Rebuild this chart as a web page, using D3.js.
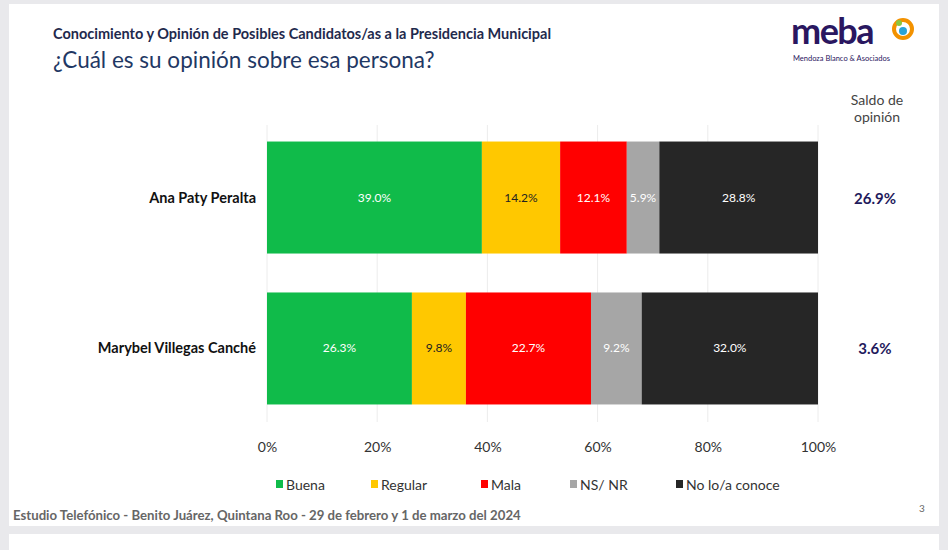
<!DOCTYPE html>
<html><head><meta charset="utf-8">
<script src="https://cdn.jsdelivr.net/npm/d3@7"></script>
<style>body{margin:0;background:#e9e9ec;font-family:Lato,"Open Sans",sans-serif}</style>
</head><body><svg id="c" width="948" height="550"></svg>
<script>
const candidates=["Ana Paty Peralta","Marybel Villegas Canché"];
const seriesNames=["Buena","Regular","Mala","NS/ NR","No lo/a conoce"];
const colors=["#10bb4a","#ffc800","#ff0000","#a6a6a6","#262626"];
const labelColors=["#ffffff","#222222","#ffffff","#ffffff","#ffffff"];
const values=[[39.0,14.2,12.1,5.9,28.8],[26.3,9.8,22.7,9.2,32.0]];
const saldo=["26.9%","3.6%"];
const ticks=[0,20,40,60,80,100];

const svg=d3.select("#c");
svg.append("rect").attr("x",9).attr("y",4).attr("width",930).attr("height",522).attr("fill","#fff");
svg.append("rect").attr("x",9).attr("y",534).attr("width",930).attr("height",20).attr("fill","#fff");
svg.append("text").attr("x",53).attr("y",39).attr("font-size",14.5).attr("font-weight","bold").attr("fill","#1f2a4d").text("Conocimiento y Opinión de Posibles Candidatos/as a la Presidencia Municipal");
svg.append("text").attr("x",53).attr("y",68).attr("font-size",22.5).attr("fill","#1f3864").text("¿Cuál es su opinión sobre esa persona?");
// logo
svg.append("text").attr("x",791).attr("y",44).attr("font-size",36).attr("font-weight","bold").attr("fill","#2a1760").attr("letter-spacing",-1.5).text("meba");
svg.append("circle").attr("cx",903).attr("cy",29).attr("r",9).attr("fill","none").attr("stroke","#f39200").attr("stroke-width",4);
svg.append("circle").attr("cx",903).attr("cy",31).attr("r",4).attr("fill","#29a3d8");
svg.append("circle").attr("cx",899).attr("cy",23).attr("r",3).attr("fill","#8cc63f");
svg.append("text").attr("x",793).attr("y",61).attr("font-size",7.5).attr("fill","#2a1760").text("Mendoza Blanco & Asociados");

const x=d3.scaleLinear().domain([0,100]).range([267,818]);
const y=d3.scaleBand().domain(candidates).range([129,417]).paddingInner(0.258).paddingOuter(0.083);
svg.append("g").selectAll("line").data(ticks).join("line").attr("x1",d=>x(d)).attr("x2",d=>x(d)).attr("y1",125).attr("y2",422).attr("stroke","#ececec");
candidates.forEach((c,i)=>{
  let acc=0;
  const g=svg.append("g");
  values[i].forEach((v,j)=>{
    g.append("rect").attr("x",x(acc)).attr("y",y(c)).attr("width",x(acc+v)-x(acc)).attr("height",y.bandwidth()).attr("fill",colors[j]);
    g.append("text").attr("x",x(acc+v/2)).attr("y",y(c)+y.bandwidth()/2+4).attr("text-anchor","middle").attr("font-size",12).attr("fill",labelColors[j]).text(v.toFixed(1)+"%");
    acc+=v;
  });
  svg.append("text").attr("x",256).attr("y",y(c)+y.bandwidth()/2+5).attr("text-anchor","end").attr("font-size",14.5).attr("font-weight","bold").attr("fill","#111").text(c);
  svg.append("text").attr("x",875).attr("y",y(c)+y.bandwidth()/2+6).attr("text-anchor","middle").attr("font-size",15).attr("font-weight","bold").attr("fill","#1f1a5c").text(saldo[i]);
});
const ax=svg.append("g").attr("transform","translate(0,422)").call(d3.axisBottom(x).tickValues(ticks).tickFormat(d=>d+"%").tickSize(0).tickPadding(20));
ax.select(".domain").remove();
ax.selectAll("text").attr("font-size",14).attr("fill","#333").attr("font-family","Lato,sans-serif");
svg.append("text").attr("x",877).attr("y",105).attr("text-anchor","middle").attr("font-size",14).attr("fill","#444").text("Saldo de");
svg.append("text").attr("x",877).attr("y",122).attr("text-anchor","middle").attr("font-size",14).attr("fill","#444").text("opinión");
const lx=[276,371,481,570,676];
seriesNames.forEach((s,j)=>{
  svg.append("rect").attr("x",lx[j]).attr("y",480).attr("width",7).attr("height",8).attr("fill",colors[j]);
  svg.append("text").attr("x",lx[j]+10).attr("y",490).attr("font-size",14).attr("fill","#333").text(s);
});
svg.append("text").attr("x",13).attr("y",520).attr("font-size",13.2).attr("font-weight","bold").attr("fill","#666").text("Estudio Telefónico - Benito Juárez, Quintana Roo - 29 de febrero y 1 de marzo del 2024");
svg.append("text").attr("x",919).attr("y",512).attr("font-size",10).attr("fill","#666").text("3");
</script></body></html>
